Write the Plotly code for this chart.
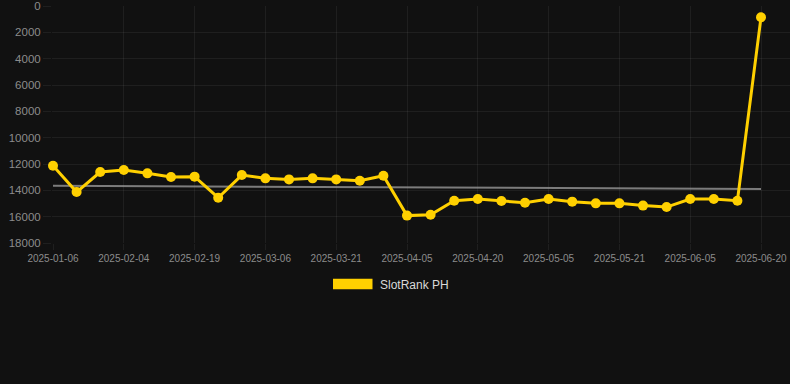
import plotly.graph_objects as go

dates = ["2025-01-06", "2025-01-16", "2025-01-26", "2025-02-04", "2025-02-09", "2025-02-14",
         "2025-02-19", "2025-02-24", "2025-03-01", "2025-03-06", "2025-03-11", "2025-03-16",
         "2025-03-21", "2025-03-26", "2025-03-31", "2025-04-05", "2025-04-10", "2025-04-15",
         "2025-04-20", "2025-04-25", "2025-04-30", "2025-05-05", "2025-05-10", "2025-05-16",
         "2025-05-21", "2025-05-26", "2025-05-31", "2025-06-05", "2025-06-10", "2025-06-15",
         "2025-06-20"]
ranks = [12130, 14130, 12610, 12460, 12710, 12990, 12960, 14560, 12840, 13090, 13170, 13090,
         13170, 13270, 12890, 15920, 15850, 14790, 14660, 14810, 14940, 14660, 14860, 14990,
         14990, 15160, 15270, 14660, 14660, 14790, 860]
trend_values = [13650, 13900]
series_name = "SlotRank PH"
y_ticks = [0, 2000, 4000, 6000, 8000, 10000, 12000, 14000, 16000, 18000]

W, H = 790, 384
L, R, T, B = 52, 0, 6, 141
plot_w = W - L - R
plot_h = H - T - B

n = len(dates)
step = 23.6
x_lo = -1.0 / step
x_hi = (n - 1) + (W - R - 761) / step

gold = "#FFD000"
grid = "rgba(255,255,255,0.06)"
tick_font = dict(family="Liberation Sans, Arial, sans-serif", color="#8c8c8c")

fig = go.Figure()
fig.add_trace(go.Scatter(
    x=[dates[0], dates[-1]], y=trend_values, mode="lines",
    line=dict(color="rgba(160,160,160,0.75)", width=2),
    showlegend=False, hoverinfo="skip", cliponaxis=False))
fig.add_trace(go.Scatter(
    x=dates, y=ranks, mode="lines+markers", name=series_name,
    line=dict(color=gold, width=3),
    marker=dict(color=gold, size=10),
    showlegend=False, cliponaxis=False))

tick_idx = list(range(0, n, 3))
fig.update_layout(
    width=W, height=H,
    margin=dict(l=L, r=R, t=T, b=B, pad=0),
    paper_bgcolor="#111111", plot_bgcolor="#111111",
    xaxis=dict(type="category", categoryorder="array", categoryarray=dates,
               range=[x_lo, x_hi],
               tickmode="array", tickvals=[dates[i] for i in tick_idx],
               ticktext=[dates[i] for i in tick_idx],
               showgrid=True, gridcolor=grid, gridwidth=1,
               ticks="outside", ticklen=6, tickcolor=grid,
               tickfont=dict(size=10, **tick_font),
               zeroline=False, showline=False, fixedrange=True),
    yaxis=dict(range=[18000, 0], tickmode="array", tickvals=y_ticks,
               ticktext=[str(v) for v in y_ticks],
               showgrid=True, gridcolor=grid, gridwidth=1,
               ticks="outside", ticklen=8, tickcolor=grid,
               tickfont=dict(size=11.5, **tick_font),
               zeroline=False, showline=False, fixedrange=True),
    showlegend=False,
)

def px_x(p):
    return (p - L) / plot_w

def px_y(p):
    return (H - B - p) / plot_h

fig.add_shape(type="rect", xref="paper", yref="paper",
              x0=px_x(333), x1=px_x(372.5), y0=px_y(289.3), y1=px_y(278.7),
              fillcolor=gold, line=dict(width=0))
fig.add_annotation(xref="paper", yref="paper", x=px_x(378), y=px_y(284.5),
                   xanchor="left", yanchor="middle", showarrow=False,
                   text=series_name,
                   font=dict(family="Liberation Sans, Arial, sans-serif", size=12, color="#d9d9d9"))

fig.write_html("out.html", config={"displayModeBar": False},
               post_script="document.body.style.margin='0';document.body.style.padding='0';"
                           "document.body.style.background='#111111';")
